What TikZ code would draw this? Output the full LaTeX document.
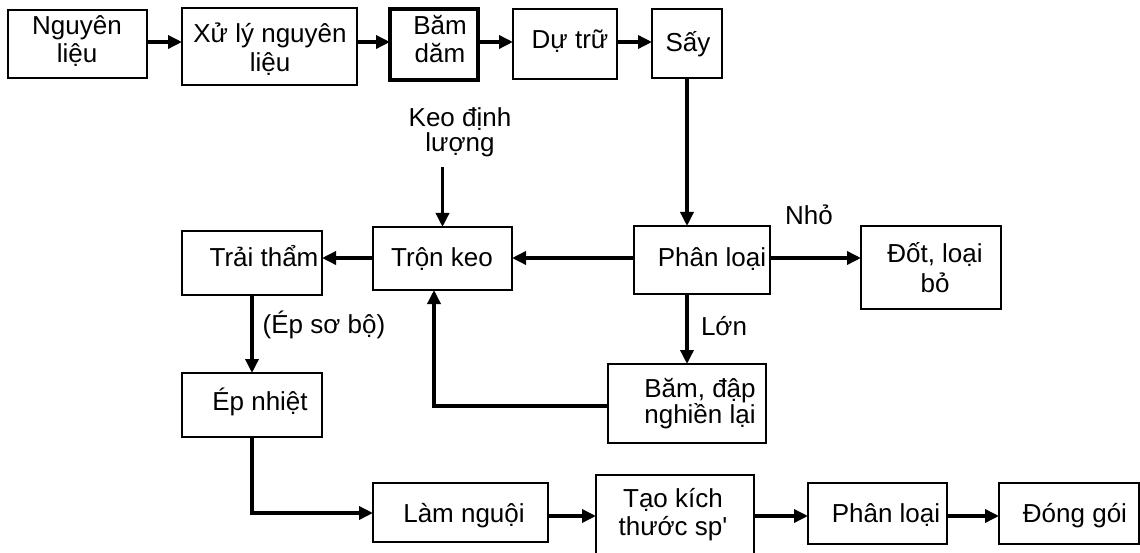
\documentclass[tikz,border=0pt]{standalone}
\usepackage{fontspec}
\setmainfont{Liberation Sans}[Ligatures=TeXOff]
\usetikzlibrary{arrows.meta}
\begin{document}
\begin{tikzpicture}[x=1pt,y=-1pt,
  box/.style={draw, line width=2.4pt, inner sep=0pt, outer sep=0pt},
  txt/.style={font=\fontsize{26}{28}\selectfont, align=center, inner sep=0pt, anchor=base},
  conn/.style={line width=3.4pt},
  arr/.style={conn, -{Triangle[length=14pt,width=13pt]}}]
\useasboundingbox (0,0) rectangle (1140,553);
\clip (0,0) rectangle (1140,553);
% boxes
\node[box, minimum width=139pt, minimum height=68pt] (n1) at (77.5,44) {};
\node[box, minimum width=175pt, minimum height=77pt] (n2) at (269.5,46.5) {};
\node[box, line width=3.2pt, minimum width=88pt, minimum height=71pt] (n3) at (434,44.5) {};
\node[box, minimum width=104pt, minimum height=70pt] (n4) at (565,44) {};
\node[box, minimum width=70pt, minimum height=69pt] (n5) at (687,43.5) {};
\node[box, minimum width=139pt, minimum height=63pt] (tron) at (442.5,258.5) {};
\node[box, minimum width=140pt, minimum height=64pt] (trai) at (252,263) {};
\node[box, minimum width=136pt, minimum height=68pt] (pl1) at (702,260) {};
\node[box, minimum width=140pt, minimum height=83pt] (dot) at (931,267.5) {};
\node[box, minimum width=158pt, minimum height=79pt] (bam2) at (687,403.5) {};
\node[box, minimum width=140pt, minimum height=64pt] (epn) at (252,405) {};
\node[box, minimum width=175pt, minimum height=59pt] (lam) at (460.5,512.5) {};
\node[box, minimum width=158pt, minimum height=90pt] (tao) at (675,520) {};
\node[box, minimum width=139pt, minimum height=61pt] (pl2) at (877.5,513.5) {};
\node[box, minimum width=140pt, minimum height=61pt] (dong) at (1069,513.5) {};
% texts (multi-line: base = last line)
\node[txt] (t1) at (77,63) {Nguyên\\liệu};
\node[txt] (t2) at (270,72) {Xử lý nguyên\\[1pt]liệu};
\node[txt] (t3) at (440,63) {Băm\\dăm};
\node[txt] (t4) at (570,49) {Dự trữ};
\node[txt] (t5) at (688,52) {Sấy};
\node[txt] (keo) at (460,152) {Keo định\\[-3pt]lượng};
\node[txt] (ttron) at (442,266) {Trộn keo};
\node[txt] (ttrai) at (264,267) {Trải thẩm};
\node[txt] (tpl1) at (712,266) {Phân loại};
\node[txt] (nho) at (809,225) {Nhỏ};
\node[txt] (tdot) at (935,293) {Đốt, loại\\[2pt]bỏ};
\node[txt] (lon) at (724,335) {Lớn};
\node[txt] (tbam) at (700,423) {Băm, đập\\[-2pt]nghiền lại};
\node[txt] (epsb) at (324,333) {(Ép sơ bộ)};
\node[txt] (tepn) at (260,410) {Ép nhiệt};
\node[txt] (tlam) at (464,522) {Làm nguội};
\node[txt] (ttao) at (673,535) {Tạo kích\\thước sp'};
\node[txt] (tpl2) at (886,522) {Phân loại};
\node[txt] (tdong) at (1075,522) {Đóng gói};
% helper coordinates
\coordinate (yt) at (0,42);
\coordinate (ym) at (0,258);
\coordinate (cb) at (434,406);
\coordinate (yl1) at (0,513);
\coordinate (yl2) at (0,516);
\coordinate (kt) at (0,167);
% connectors
\draw[arr] (n1.east |- yt) -- (n2.west |- yt);
\draw[arr] (n2.east |- yt) -- (n3.west |- yt);
\draw[arr] (n3.east |- yt) -- (n4.west |- yt);
\draw[arr] (n4.east |- yt) -- (n5.west |- yt);
\draw[arr] (n5.south) -- (n5.south |- pl1.north);
\draw[arr] (pl1.west |- ym) -- (tron.east |- ym);
\draw[arr] (tron.west |- ym) -- (trai.east |- ym);
\draw[arr] (pl1.east |- ym) -- (dot.west |- ym);
\draw[arr] (bam2.north |- pl1.south) -- (bam2.north);
\draw[arr] (tron.north |- kt) -- (tron.north);
\draw[arr] (bam2.west |- cb) -- (cb) -- (cb |- tron.south);
\draw[arr] (trai.south) -- (epn.north);
\draw[arr] (epn.south) |- (lam.west |- yl1);
\draw[arr] (lam.east |- yl2) -- (tao.west |- yl2);
\draw[arr] (tao.east |- yl2) -- (pl2.west |- yl2);
\draw[arr] (pl2.east |- yl2) -- (dong.west |- yl2);
\end{tikzpicture}
\end{document}
